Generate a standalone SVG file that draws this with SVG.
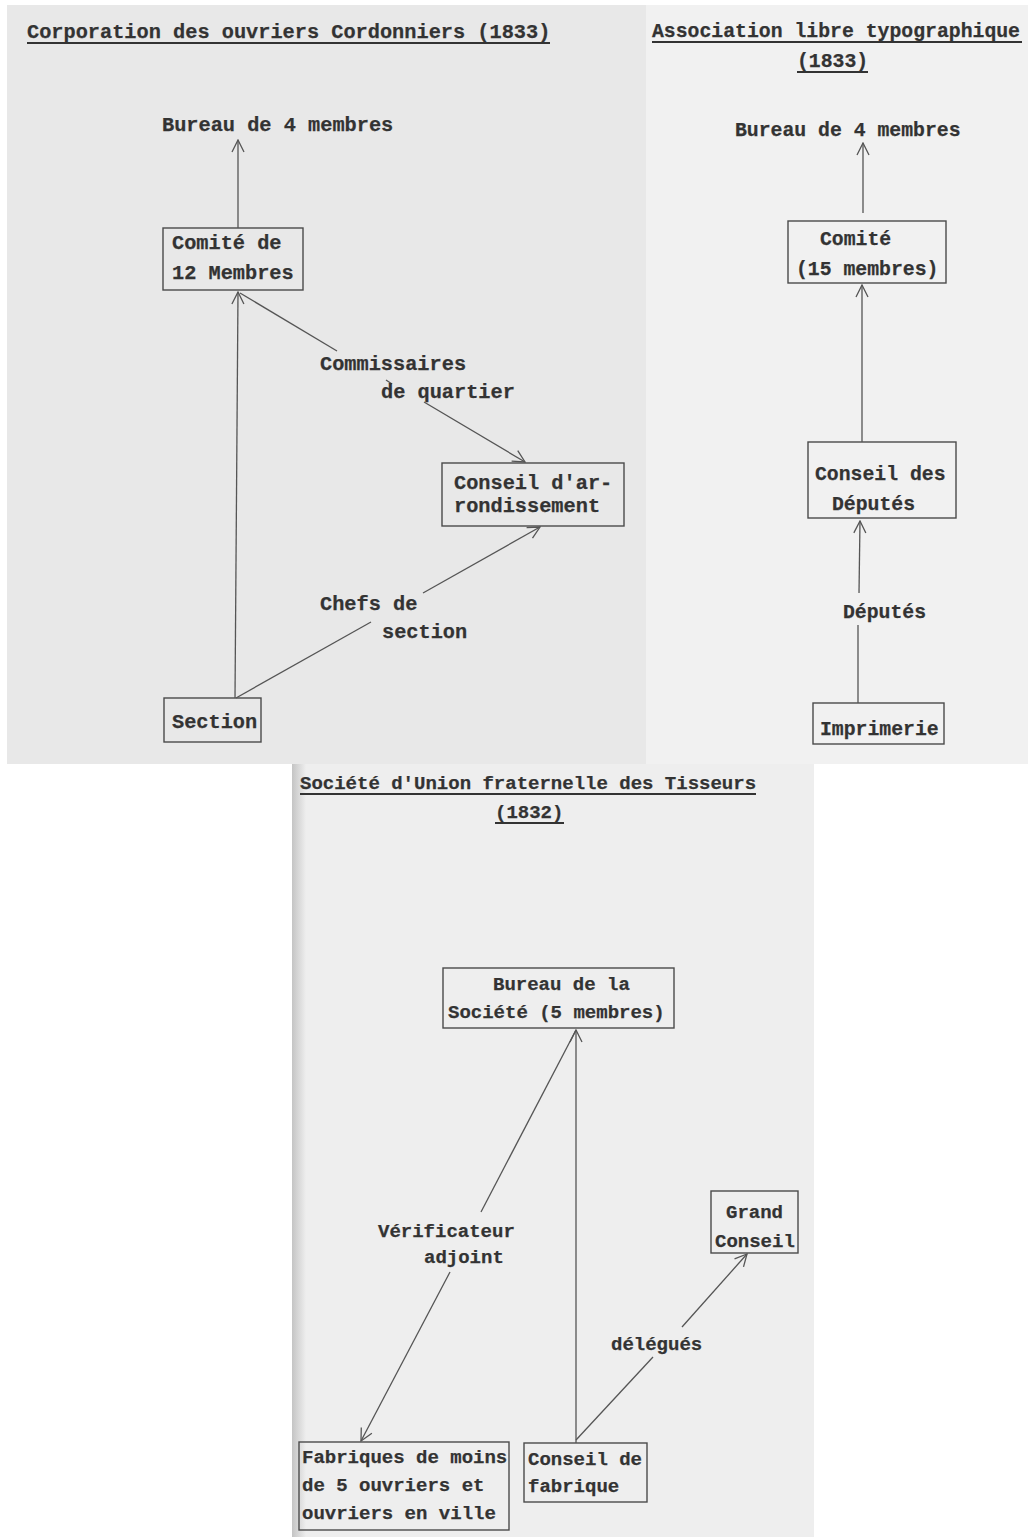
<svg xmlns="http://www.w3.org/2000/svg" width="1028" height="1537" viewBox="0 0 1028 1537">
<defs>
<style>
text{font-family:"Liberation Mono","DejaVu Sans Mono",monospace;font-weight:bold;fill:#333333;stroke:#333333;stroke-width:0.25;}
.t20{font-size:20.3px;}
.t2{font-size:19.8px;}
.t19{font-size:19px;}
.box{fill:none;stroke:#4a4a4a;stroke-width:1.4;}
.ln{fill:none;stroke:#555;stroke-width:1.3;}
.ul{stroke:#333333;stroke-width:2;}
</style>
<marker id="ah" viewBox="0 0 14 14" refX="13" refY="7" markerWidth="14" markerHeight="14" markerUnits="userSpaceOnUse" orient="auto">
<path d="M1,1 L13,7 L1,13" fill="none" stroke="#555" stroke-width="1.3"/>
</marker>
<linearGradient id="edge" x1="0" x2="1" y1="0" y2="0">
<stop offset="0" stop-color="#c4c4c4"/>
<stop offset="1" stop-color="#eeeeee"/>
</linearGradient>
</defs>
<rect x="0" y="0" width="1028" height="1537" fill="#ffffff"/>
<rect x="7" y="5" width="639" height="759" fill="#e8e8e8"/>
<rect x="646" y="5" width="382" height="759" fill="#f1f1f1"/>
<rect x="292" y="764" width="522" height="773" fill="#eeeeee"/>
<rect x="292" y="764" width="14" height="773" fill="url(#edge)"/>

<!-- Panel 1 -->
<g id="title1">
<text class="t20" x="27" y="38">Corporation des ouvriers Cordonniers (1833)</text>
<line class="ul" x1="27" y1="43" x2="550" y2="43"/>
</g>
<g id="bureau1"><text class="t20" x="162" y="131">Bureau de 4 membres</text></g>
<g id="comite1">
<rect class="box" x="163" y="228" width="140" height="62"/>
<text class="t20" x="172" y="249">Comité de</text>
<text class="t20" x="172" y="279">12 Membres</text>
</g>
<g id="conseil1">
<rect class="box" x="442" y="463" width="182" height="63"/>
<text class="t20" x="454" y="489">Conseil d'ar-</text>
<text class="t20" x="454" y="512">rondissement</text>
</g>
<g id="section1">
<rect class="box" x="164" y="698" width="97" height="44"/>
<text class="t20" x="172" y="728">Section</text>
</g>

<!-- Panel 2 -->
<g id="title2">
<text class="t2" x="652" y="37">Association libre typographique</text>
<line class="ul" x1="652" y1="42" x2="1022" y2="42"/>
<text class="t2" x="797" y="67">(1833)</text>
<line class="ul" x1="797" y1="72" x2="868" y2="72"/>
</g>
<g id="bureau2"><text class="t2" x="735" y="136">Bureau de 4 membres</text></g>
<g id="comite2">
<rect class="box" x="788" y="221" width="158" height="62"/>
<text class="t2" x="820" y="245">Comité</text>
<text class="t2" x="796" y="275">(15 membres)</text>
</g>
<g id="conseil2">
<rect class="box" x="808" y="442" width="148" height="76"/>
<text class="t2" x="815" y="480">Conseil des</text>
<text class="t2" x="832" y="510">Députés</text>
</g>
<g id="imprimerie2">
<rect class="box" x="813" y="703" width="131" height="41"/>
<text class="t2" x="820" y="735">Imprimerie</text>
</g>

<!-- Panel 3 -->
<g id="title3">
<text class="t19" x="300" y="789">Société d'Union fraternelle des Tisseurs</text>
<line class="ul" x1="300" y1="794" x2="756" y2="794"/>
<text class="t19" x="495" y="818">(1832)</text>
<line class="ul" x1="495" y1="823" x2="564" y2="823"/>
</g>
<g id="bureau3">
<rect class="box" x="443" y="968" width="231" height="60"/>
<text class="t19" x="493" y="990">Bureau de la</text>
<text class="t19" x="448" y="1018">Société (5 membres)</text>
</g>
<g id="grandconseil3">
<rect class="box" x="711" y="1191" width="87" height="62"/>
<text class="t19" x="726" y="1218">Grand</text>
<text class="t19" x="715" y="1247">Conseil</text>
</g>
<g id="fabriques3">
<rect class="box" x="299" y="1442" width="210" height="88"/>
<text class="t19" x="302" y="1463">Fabriques de moins</text>
<text class="t19" x="302" y="1491">de 5 ouvriers et</text>
<text class="t19" x="302" y="1519">ouvriers en ville</text>
</g>
<g id="conseilfab3">
<rect class="box" x="524" y="1443" width="123" height="59"/>
<text class="t19" x="528" y="1465">Conseil de</text>
<text class="t19" x="528" y="1492">fabrique</text>
</g>

<!-- Connectors -->
<g id="connectors">
<line class="ln" x1="238" y1="228" x2="238" y2="140" marker-end="url(#ah)"/>
<line class="ln" x1="235" y1="698" x2="238" y2="292" marker-end="url(#ah)"/>
<line class="ln" x1="240" y1="293" x2="337" y2="351"/>
<line class="ln" x1="386" y1="380" x2="392" y2="384"/>
<line class="ln" x1="424" y1="402" x2="525" y2="462" marker-end="url(#ah)"/>
<line class="ln" x1="236" y1="698" x2="371" y2="622"/>
<line class="ln" x1="423" y1="593" x2="540" y2="527" marker-end="url(#ah)"/>
<text class="t20" x="320" y="370">Commissaires</text>
<text class="t20" x="381" y="398">de quartier</text>
<text class="t20" x="320" y="610">Chefs de</text>
<text class="t20" x="382" y="638">section</text>

<line class="ln" x1="863" y1="213" x2="863" y2="143" marker-end="url(#ah)"/>
<line class="ln" x1="862" y1="442" x2="862" y2="285" marker-end="url(#ah)"/>
<line class="ln" x1="858" y1="703" x2="858" y2="625"/>
<line class="ln" x1="859" y1="593" x2="860" y2="521" marker-end="url(#ah)"/>
<text class="t2" x="843" y="618">Députés</text>

<line class="ln" x1="576" y1="1443" x2="576" y2="1030" marker-end="url(#ah)"/>
<line class="ln" x1="576" y1="1030" x2="481" y2="1212"/>
<line class="ln" x1="450" y1="1272" x2="361" y2="1441" marker-end="url(#ah)"/>
<line class="ln" x1="576" y1="1440" x2="653" y2="1357"/>
<line class="ln" x1="682" y1="1327" x2="747" y2="1254" marker-end="url(#ah)"/>
<text class="t19" x="378" y="1237">Vérificateur</text>
<text class="t19" x="424" y="1263">adjoint</text>
<text class="t19" x="611" y="1350">délégués</text>
</g>
</svg>
